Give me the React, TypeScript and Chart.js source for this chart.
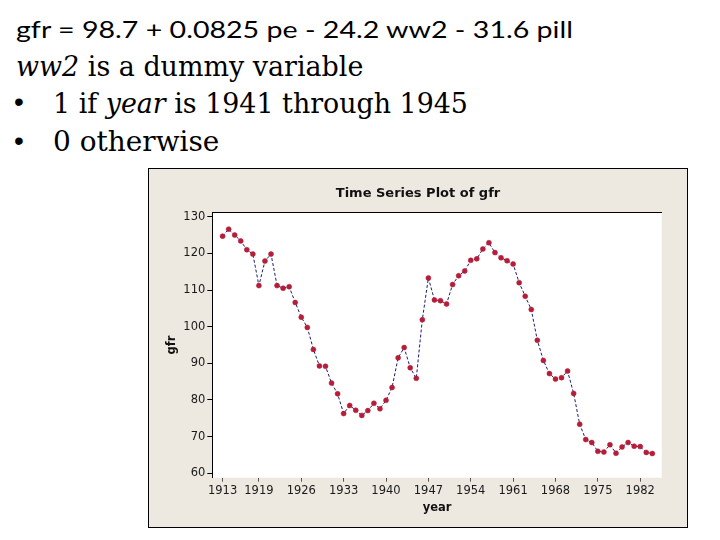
import { useEffect, useLayoutEffect, useRef, useState } from "react";
import type { ReactNode } from "react";
import { Chart, registerables } from "chart.js";
import type { Plugin } from "chart.js";

Chart.register(...registerables);

// general fertility rate by year
const years = [
  1913, 1914, 1915, 1916, 1917, 1918, 1919, 1920, 1921, 1922, 1923, 1924,
  1925, 1926, 1927, 1928, 1929, 1930, 1931, 1932, 1933, 1934, 1935, 1936,
  1937, 1938, 1939, 1940, 1941, 1942, 1943, 1944, 1945, 1946, 1947, 1948,
  1949, 1950, 1951, 1952, 1953, 1954, 1955, 1956, 1957, 1958, 1959, 1960,
  1961, 1962, 1963, 1964, 1965, 1966, 1967, 1968, 1969, 1970, 1971, 1972,
  1973, 1974, 1975, 1976, 1977, 1978, 1979, 1980, 1981, 1982, 1983, 1984,
];
const gfr = [
  124.7, 126.6, 125.0, 123.4, 121.0, 119.8, 111.2, 117.9, 119.8, 111.2, 110.5, 110.9,
  106.6, 102.6, 99.8, 93.8, 89.3, 89.2, 84.6, 81.7, 76.3, 78.5, 77.2, 75.8,
  77.1, 79.1, 77.6, 79.9, 83.4, 91.5, 94.3, 88.8, 85.9, 101.9, 113.3, 107.3,
  107.1, 106.2, 111.5, 113.9, 115.2, 118.1, 118.5, 121.2, 122.9, 120.2, 118.8, 118.0,
  117.1, 112.0, 108.3, 104.7, 96.3, 90.8, 87.2, 85.7, 86.1, 87.9, 81.8, 73.4,
  69.2, 68.4, 66.0, 65.8, 67.8, 65.5, 67.2, 68.4, 67.4, 67.3, 65.7, 65.4,
];
const xTicks = [1913, 1919, 1926, 1933, 1940, 1947, 1954, 1961, 1968, 1975, 1982];
const yTicks = [60, 70, 80, 90, 100, 110, 120, 130];

const TICK_FONT = { family: "'DejaVu Sans', sans-serif", size: 11.5 };
const LABEL_FONT = { family: "'DejaVu Sans', sans-serif", size: 11.5, weight: "bold" as const };

// white data region inside the beige frame
const plotBackground: Plugin<"line"> = {
  id: "plotBackground",
  beforeDraw(chart) {
    const { ctx, chartArea } = chart;
    ctx.save();
    ctx.fillStyle = "#ffffff";
    ctx.fillRect(chartArea.left, chartArea.top, chartArea.width, chartArea.height);
    ctx.restore();
  },
};

function FitText({ x, y, width, font, children }: { x: number; y: number; width: number; font: string; children: ReactNode }) {
  const ref = useRef<HTMLSpanElement | null>(null);
  const [scale, setScale] = useState(1);

  useLayoutEffect(() => {
    if (!ref.current) return;
    setScale(width / ref.current.offsetWidth);
  }, [width]);

  return (
    <span
      ref={ref}
      style={{
        position: "absolute",
        left: x,
        top: y,
        font,
        lineHeight: 1,
        whiteSpace: "nowrap",
        color: "#000",
        transform: `scaleX(${scale})`,
        transformOrigin: "0 0",
      }}
    >
      {children}
    </span>
  );
}

function GfrChart() {
  const canvasRef = useRef<HTMLCanvasElement | null>(null);
  const chartRef = useRef<Chart | null>(null);

  useEffect(() => {
    if (!canvasRef.current) return;
    chartRef.current?.destroy();

    chartRef.current = new Chart(canvasRef.current, {
      type: "line",
      data: {
        datasets: [
          {
            label: "gfr",
            data: years.map((yr, i) => ({ x: yr, y: gfr[i] })),
            xAxisID: "x",
            yAxisID: "y",
            borderColor: "#1c1c78",
            borderWidth: 1,
            borderDash: [3, 2],
            pointRadius: 2.5,
            pointBackgroundColor: "#b51d38",
            pointBorderColor: "#b51d38",
            pointBorderWidth: 0.5,
            tension: 0,
          },
        ],
      },
      plugins: [plotBackground],
      options: {
        responsive: false,
        animation: false,
        layout: { padding: 0 },
        plugins: {
          legend: { display: false },
          tooltip: { enabled: false },
          title: {
            display: true,
            text: "Time Series Plot of gfr",
            color: "#111",
            font: { family: "'DejaVu Sans', sans-serif", size: 13, weight: "bold" },
            padding: { top: 17, bottom: 10.7 },
          },
        },
        scales: {
          x: {
            type: "linear",
            min: 1911.3,
            max: 1985.55,
            afterFit: (s) => {
              s.height = 49.3;
            },
            afterBuildTicks: (s) => {
              s.ticks = xTicks.map((v) => ({ value: v }));
            },
            ticks: {
              autoSkip: false,
              maxRotation: 0,
              color: "#1a1a1a",
              font: TICK_FONT,
              padding: 2,
              callback: (v) => String(v),
            },
            grid: { drawOnChartArea: false, drawTicks: true, tickLength: 4, color: "#555" },
            border: { display: false },
            title: {
              display: true,
              text: "year",
              color: "#111",
              font: LABEL_FONT,
              padding: { top: 0, bottom: 12.5 },
            },
          },
          y: {
            type: "linear",
            min: 58.8,
            max: 131.2,
            afterFit: (s) => {
              s.width = 63.3;
            },
            afterBuildTicks: (s) => {
              s.ticks = yTicks.map((v) => ({ value: v }));
            },
            ticks: { color: "#1a1a1a", font: TICK_FONT, padding: 2 },
            grid: { drawOnChartArea: false, drawTicks: true, tickLength: 5, color: "#000" },
            border: { display: true, color: "#000", width: 1 },
            title: {
              display: true,
              text: "gfr",
              color: "#111",
              font: LABEL_FONT,
              padding: { top: 16.5, bottom: 0 },
            },
          },
          top: {
            type: "linear",
            position: "top",
            min: 0,
            max: 1,
            afterFit: (s) => {
              s.height = 0;
            },
            ticks: { display: false },
            grid: { display: false },
            border: { display: true, color: "#000", width: 1 },
          },
          right: {
            type: "linear",
            position: "right",
            min: 0,
            max: 1,
            afterFit: (s) => {
              s.width = 25.3;
            },
            ticks: { display: false },
            grid: { display: false },
            border: { display: false },
          },
        },
      },
    });

    return () => {
      chartRef.current?.destroy();
      chartRef.current = null;
    };
  }, []);

  return <canvas ref={canvasRef} width={538} height={358} style={{ display: "block" }} />;
}

export default function App() {
  const sans = "23.5px Lato, 'Open Sans', sans-serif";
  const serif = "27px 'DejaVu Serif', serif";
  return (
    <div
      style={{
        position: "absolute",
        left: 0,
        top: 0,
        width: 720,
        height: 540,
        background: "#fff",
        overflow: "hidden",
      }}
    >
      <FitText x={16} y={17.5} width={557} font={sans}>
        gfr = 98.7 + 0.0825 pe - 24.2 ww2 - 31.6 pill
      </FitText>
      <FitText x={16} y={53} width={347} font={serif}>
        <i>ww2</i> is a dummy variable
      </FitText>
      <span style={{ position: "absolute", left: 14, top: 88, font: "28px 'Liberation Sans', sans-serif", lineHeight: 1 }}>•</span>
      <FitText x={53.3} y={90} width={415} font={serif}>
        1 if <i>year</i> is 1941 through 1945
      </FitText>
      <span style={{ position: "absolute", left: 14, top: 127, font: "28px 'Liberation Sans', sans-serif", lineHeight: 1 }}>•</span>
      <FitText x={53.3} y={128} width={166.7} font={serif}>
        0 otherwise
      </FitText>
      <div
        style={{
          position: "absolute",
          left: 148,
          top: 168,
          width: 538,
          height: 358,
          border: "1px solid #000",
          background: "#ede9e1",
        }}
      >
        <GfrChart />
      </div>
    </div>
  );
}
